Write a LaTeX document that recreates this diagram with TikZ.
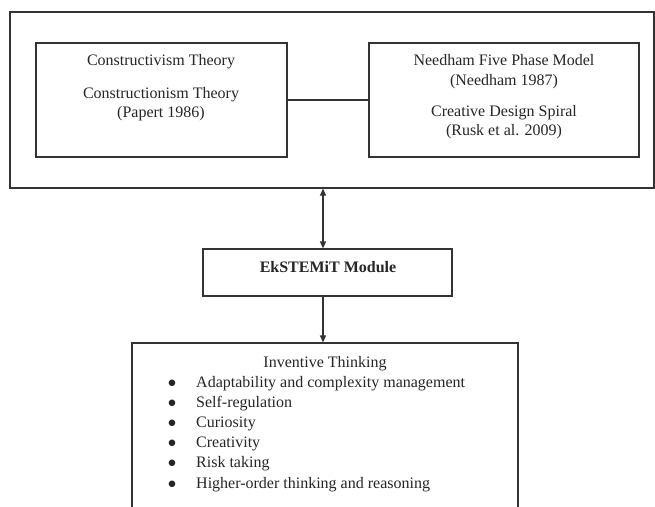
\documentclass[tikz,border=0pt]{standalone}
\usepackage{fontspec}
\setmainfont{Liberation Serif}
\newfontfamily\symfont{DejaVu Sans}
\usetikzlibrary{arrows.meta}
\tikzset{
  box/.style={draw=black!80, line width=1.2pt, rectangle, inner sep=0pt},
  txt/.style={inner sep=0pt, anchor=base, font=\fontsize{16}{20}\selectfont, text=black!85},
  ltxt/.style={txt, anchor=base west},
  btxt/.style={txt, font=\symfont\fontsize{8.5}{10}\selectfont},
  conn/.style={draw=black!80, line width=1.2pt},
  tip/.style={-{Triangle[length=7pt,width=6pt]}}
}
\begin{document}
\begin{tikzpicture}[x=1pt,y=-1pt]
\useasboundingbox (0,0) rectangle (655,506);
\fill[white] (0,0) rectangle (655,506);
\clip (0,0) rectangle (655,506);
% boxes
\node[box, minimum width=644pt, minimum height=176pt] (outer) at (332,100) {};
\node[box, minimum width=251pt, minimum height=114pt] (lbox) at (161.5,100) {};
\node[box, minimum width=270pt, minimum height=114pt] (rbox) at (504,100) {};
\node[box, minimum width=249pt, minimum height=47pt] (module) at (327.5,272.5) {};
\node[box, minimum width=386pt, minimum height=180pt] (itbox) at (325,433) {};
% texts left
\node[txt] (l1) at (161,65) {Constructivism Theory};
\node[txt] (l2) at (161,98) {Constructionism Theory};
\node[txt] (l3) at (161,117) {(Papert 1986)};
% texts right
\node[txt] (r1) at (504,65) {Needham Five Phase Model};
\node[txt] (r2) at (504,85) {(Needham 1987)};
\node[txt] (r3) at (504,116) {Creative Design Spiral};
\node[txt] (r4) at (504,135) {(Rusk et al. 2009)};
% module
\node[txt, font=\fontsize{16}{20}\selectfont\bfseries] (mt) at (328,272) {EkSTEMiT Module};
% inventive thinking
\node[txt] (it) at (325,367) {Inventive Thinking};
\foreach \y/\t [count=\i] in {387/Adaptability and complexity management,407/Self-regulation,427/Curiosity,447/Creativity,467/Risk taking,488/Higher-order thinking and reasoning}{
  \node[btxt] (b\i) at (172,\y-2) {●};
  \node[ltxt] (i\i) at (196,\y) {\t};
}
% connectors
\coordinate (ax) at (323,0);
\draw[conn] (lbox.east) -- (rbox.west);
\draw[conn, {Triangle[length=7pt,width=6pt]}-{Triangle[length=7pt,width=6pt]}] (ax |- outer.south) -- (ax |- module.north);
\draw[conn, tip] (ax |- module.south) -- (ax |- itbox.north);
\end{tikzpicture}
\end{document}
